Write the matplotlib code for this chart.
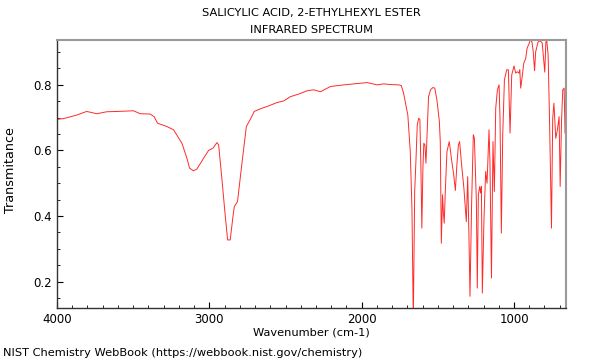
import matplotlib
matplotlib.use("Agg")
import matplotlib.pyplot as plt
from matplotlib.ticker import MultipleLocator

# spectrum (wavenumber, transmittance)
wavenumber = [4000, 3958, 3870, 3805, 3739, 3673, 3600, 3498, 3454, 3389,
              3362, 3340, 3279, 3235, 3180, 3147, 3130, 3104, 3082, 3038,
              3005, 2976, 2950, 2939, 2917, 2895, 2880, 2863, 2845, 2836,
              2815, 2786, 2757, 2731, 2705, 2665, 2621, 2556, 2512, 2468,
              2413, 2358, 2315, 2271, 2205, 2117, 2052, 1964, 1898, 1855,
              1810, 1758, 1740, 1725, 1714, 1697, 1681, 1670, 1661, 1652,
              1644, 1635, 1626, 1618, 1611, 1605, 1598, 1592, 1585, 1578,
              1569, 1561, 1548, 1532, 1520, 1506, 1490, 1484, 1477, 1469,
              1464, 1458, 1451, 1440, 1425, 1411, 1396, 1385, 1375, 1365,
              1357, 1344, 1329, 1313, 1304, 1296, 1289, 1278, 1267, 1260,
              1247, 1241, 1234, 1225, 1219, 1214, 1208, 1197, 1186, 1177,
              1164, 1158, 1148, 1138, 1129, 1120, 1109, 1098, 1092, 1083,
              1074, 1063, 1048, 1037, 1026, 1015, 1000, 989, 978, 967,
              962, 956, 945, 936, 923, 914, 900, 891, 882, 874,
              865, 858, 843, 830, 815, 808, 798, 791, 785, 776,
              767, 754, 746, 738, 726, 715, 704, 697, 688, 680,
              671, 665, 660]
transmittance = [0.695, 0.697, 0.708, 0.719, 0.712, 0.718, 0.719, 0.721, 0.712, 0.711,
                 0.703, 0.683, 0.673, 0.663, 0.622, 0.576, 0.546, 0.538, 0.543, 0.576,
                 0.600, 0.607, 0.624, 0.617, 0.510, 0.398, 0.327, 0.327, 0.398, 0.429,
                 0.444, 0.561, 0.673, 0.695, 0.719, 0.727, 0.734, 0.746, 0.751, 0.764,
                 0.772, 0.782, 0.785, 0.779, 0.795, 0.800, 0.803, 0.807, 0.800, 0.803,
                 0.801, 0.800, 0.798, 0.775, 0.749, 0.708, 0.597, 0.424, 0.080, 0.475,
                 0.566, 0.678, 0.698, 0.695, 0.546, 0.363, 0.546, 0.622, 0.617, 0.561,
                 0.668, 0.764, 0.785, 0.792, 0.790, 0.754, 0.688, 0.627, 0.317, 0.465,
                 0.414, 0.378, 0.475, 0.597, 0.627, 0.576, 0.526, 0.478, 0.556, 0.617,
                 0.627, 0.556, 0.485, 0.383, 0.520, 0.343, 0.155, 0.444, 0.648, 0.637,
                 0.444, 0.180, 0.465, 0.490, 0.470, 0.490, 0.165, 0.393, 0.536, 0.500,
                 0.663, 0.566, 0.211, 0.627, 0.475, 0.729, 0.785, 0.800, 0.700, 0.348,
                 0.648, 0.815, 0.846, 0.846, 0.653, 0.830, 0.858, 0.836, 0.840, 0.836,
                 0.846, 0.790, 0.830, 0.866, 0.881, 0.912, 0.927, 0.940, 0.930, 0.902,
                 0.843, 0.900, 0.930, 0.935, 0.928, 0.891, 0.839, 0.930, 0.935, 0.891,
                 0.698, 0.363, 0.698, 0.744, 0.637, 0.663, 0.703, 0.490, 0.690, 0.785,
                 0.790, 0.653, 0.650]

xticks = [4000, 3000, 2000, 1000]
yticks = [0.2, 0.4, 0.6, 0.8]

fig = plt.figure(figsize=(6, 3.6), dpi=100)
ax = fig.add_axes([0.095, 0.145, 0.848, 0.744])

ax.plot(wavenumber, transmittance, color="#ff2a2a", lw=0.7)

ax.set_xlim(4000, 660)
ax.set_ylim(0.12, 0.937)
ax.set_xticks(xticks)
ax.set_yticks(yticks)
ax.xaxis.set_minor_locator(MultipleLocator(100))
ax.yaxis.set_minor_locator(MultipleLocator(0.05))
ax.tick_params(which="both", direction="in", top=False, right=False, labelsize=8.5)
ax.tick_params(which="major", length=4, width=0.8)
ax.tick_params(which="minor", length=2.5, width=0.6)

for s in ["top", "right"]:
    ax.spines[s].set_color("#999999")
    ax.spines[s].set_linewidth(1.5)
for s in ["left", "bottom"]:
    ax.spines[s].set_color("#333333")
    ax.spines[s].set_linewidth(1.0)

ax.set_xlabel("Wavenumber (cm-1)", fontsize=8.2, labelpad=1)
ax.set_ylabel("Transmitance", fontsize=9.2, va="center")
ax.yaxis.set_label_coords(-0.092, 0.515)

fig.text(0.519, 0.964, "SALICYLIC ACID, 2-ETHYLHEXYL ESTER", ha="center", va="center", fontsize=8.2)
fig.text(0.519, 0.917, "INFRARED SPECTRUM", ha="center", va="center", fontsize=8.2)
fig.text(0.005, 0.006, "NIST Chemistry WebBook (https://webbook.nist.gov/chemistry)",
         ha="left", va="bottom", fontsize=8.2)

fig.savefig("out.png", dpi=100)
